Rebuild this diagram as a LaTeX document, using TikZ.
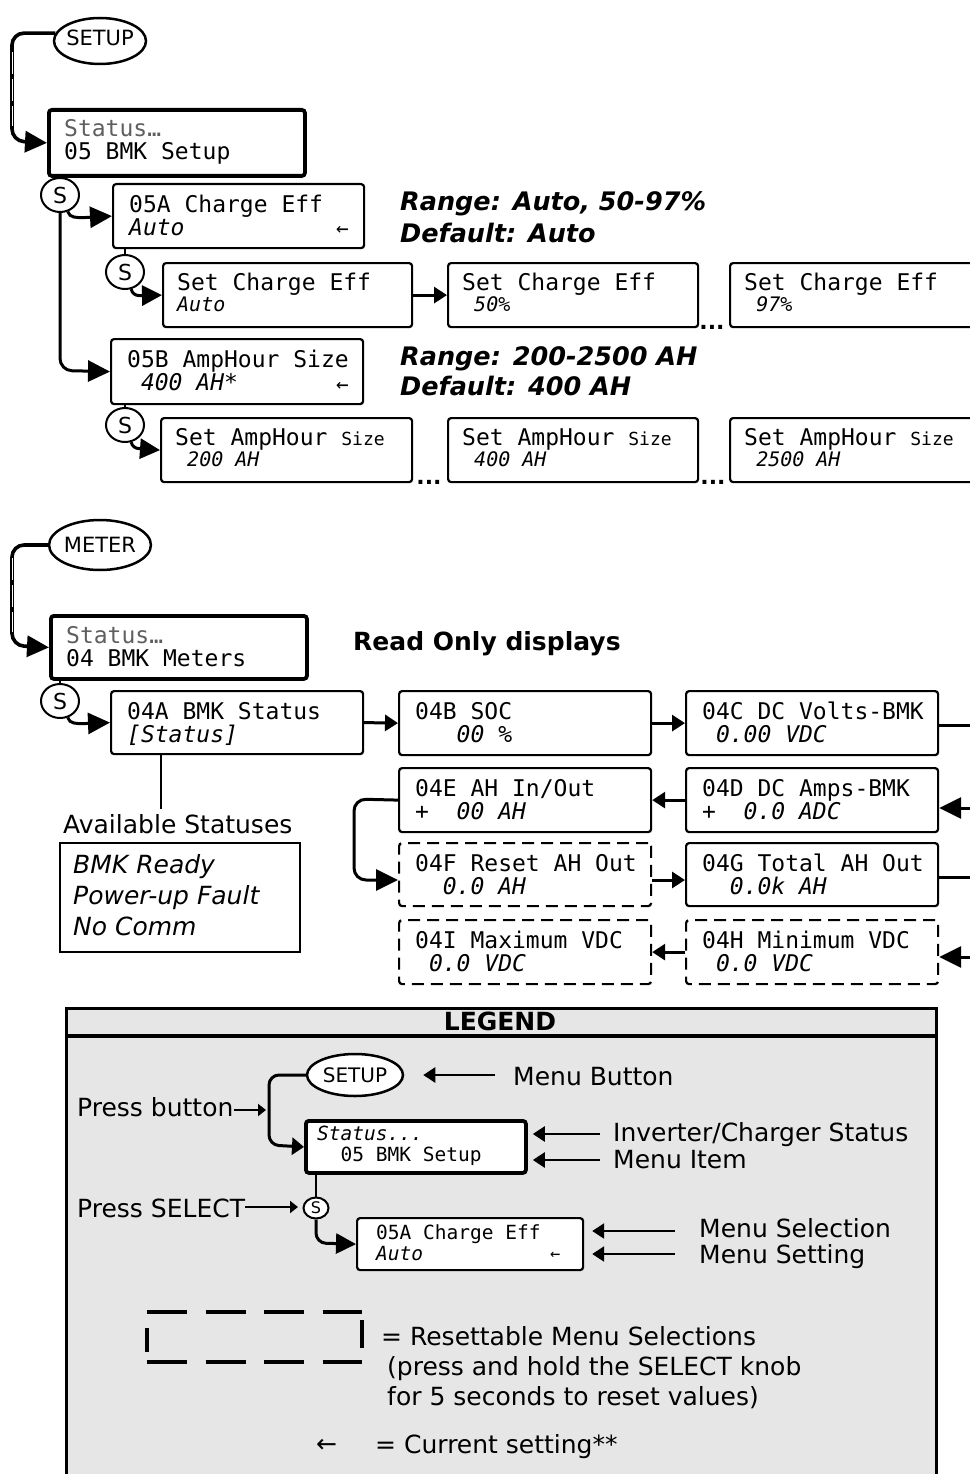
\documentclass[tikz,border=0pt]{standalone}
\usepackage{fontspec}
\setmainfont{DejaVu Sans}
\setmonofont{DejaVu Sans Mono}
\usetikzlibrary{arrows.meta,calc,shapes.geometric}
\definecolor{stgray}{RGB}{95,95,95}
\definecolor{lgray}{RGB}{230,230,230}
\newcommand\panel[9]{%
  \node[#2, minimum width=#5pt, minimum height=#6pt] (#1) at (#3,#4) {};
  \node[mono] (#1-a) at (#3+17,#4+29) {#7};
  \node[#8] (#1-b) at (#3+17,#4+52) {#9};}
\newcommand\setpanel[6]{%
  \node[menubox, minimum width=#4pt, minimum height=64pt] (#1) at (#2,#3) {};
  \node[mono] (#1-a) at (#2+15,#3+28) {#5};
  \node[monos] (#1-b) at (#2+15,#3+49) {#6};}
\begin{document}
\begin{tikzpicture}[x=1pt,y=-1pt,
  mono/.style={inner sep=0pt, anchor=base west, font=\fontsize{23}{23}\selectfont\ttfamily},
  monoi/.style={mono, font=\fontsize{23}{23}\selectfont\ttfamily\itshape},
  monos/.style={mono, font=\fontsize{20}{20}\selectfont\ttfamily\itshape},
  lmono/.style={mono, font=\fontsize{19.5}{19.5}\selectfont\ttfamily},
  lmonoi/.style={mono, font=\fontsize{19.5}{19.5}\selectfont\ttfamily\itshape},
  sansl/.style={inner sep=0pt, anchor=base west, font=\fontsize{25}{25}\selectfont},
  sansi/.style={sansl, font=\fontsize{25}{25}\selectfont\itshape},
  rangetxt/.style={sansl, font=\fontsize{25.5}{25.5}\selectfont\bfseries\itshape},
  curmark/.style={inner sep=0pt, anchor=base west, font=\fontsize{21}{21}\selectfont\ttfamily},
  dotsty/.style={inner sep=0pt, anchor=base, font=\fontsize{22}{22}\selectfont\bfseries},
  menubox/.style={draw, line width=2.2pt, rounded corners=3pt, fill=white, inner sep=0pt, anchor=north west},
  statbox/.style={menubox, line width=3.8pt},
  dashbox/.style={menubox, dash pattern=on 12pt off 7pt},
  sel/.style={ellipse, draw, line width=2pt, fill=white, minimum width=38pt, minimum height=34pt, inner sep=0pt, font=\fontsize{22}{22}\selectfont},
  btn/.style={ellipse, draw, line width=2.5pt, fill=white, inner sep=0pt},
  conn/.style={line width=3pt, rounded corners=12pt},
  feed/.style={line width=3.6pt, rounded corners=12pt},
  hook/.style={line width=3pt},
  bigarr/.style={-{Triangle[length=22pt,width=21pt]}},
  midarr/.style={-{Triangle[length=20pt,width=20pt]}},
  smallarr/.style={-{Triangle[length=13pt,width=16pt]}},
  larr/.style={line width=2.5pt, -{Triangle[length=12pt,width=15pt]}},
  parr/.style={line width=2.5pt, -{Triangle[length=8pt,width=12pt]}},
  thinlink/.style={line width=2pt},
  stripe/.style={white, line width=0.9pt, dash pattern=on 22pt off 5pt}
]
\useasboundingbox (0,0) rectangle (969,1474);

% ---------------- SETUP ----------------
\node[btn, minimum width=92pt, minimum height=46pt] (setup) at (100,41) {};
\node[inner sep=0pt, font=\fontsize{21}{21}\selectfont] (setupt) at (100,38) {SETUP};
\node[statbox, minimum width=256pt, minimum height=66pt] (stat1) at (47,108) {};
\node[mono, text=stgray] (stat1-a) at (64,137) {Status…};
\node[mono] (stat1-b) at (64,160) {05 BMK Setup};
\draw[feed,bigarr] (setup.170) -- (setup.170 -| 12,0) -- (12,141) -- (stat1.west);
\draw[stripe] (12,52) -- (12,126);

\node[sel] (s1) at (60,195) {S};
\draw[thinlink] (s1.north) -- (s1.north |- stat1.south);

\panel{a05}{menubox}{112}{183}{251}{64}{05A Charge Eff}{monoi}{Auto}
\node[curmark] (a05-cur) at (336,235) {←};
\draw[hook,bigarr] (s1.-65) to[out=-75,in=180] ($(s1.-65)+(16,6)$) -- (a05.west);

\node[sel] (s2) at (125,272) {S};
\draw[thinlink] (s2.north) -- (s2.north |- a05.south);

\setpanel{c1}{162}{262}{249}{Set Charge Eff}{Auto}
\setpanel{c2}{447}{262}{250}{Set Charge Eff}{\ 50\%}
\setpanel{c3}{729}{262}{260}{Set Charge Eff}{\ 97\%}
\draw[hook,midarr] (s2.-70) to[out=-80,in=180] ($(s2.-70)+(8,6.5)$) -- (c1.west);
\draw[line width=3pt,smallarr] (c1.east) -- (c2.west);
\node[dotsty] (dt1) at (712,329) {...};

\node[rangetxt] (r1) at (400,211) {Range: Auto, 50-97\%};
\node[rangetxt] (r2) at (400,242) {Default: Auto};

\panel{b05}{menubox}{110}{338}{252}{65}{05B AmpHour Size}{monoi}{\ 400 AH*}
\node[curmark] (b05-cur) at (336,391) {←};
\draw[conn,bigarr] (s1.south) -- (60,370.5) -- (b05.west);

\node[rangetxt] (r3) at (400,365) {Range: 200-2500 AH};
\node[rangetxt] (r4) at (400,395) {Default: 400 AH};

\node[sel] (s3) at (125,425) {S};
\draw[thinlink] (s3.north) -- (s3.north |- b05.south);

\setpanel{d1}{160}{417}{251}{Set AmpHour {\fontsize{18}{18}\selectfont Size}}{\ 200 AH}
\setpanel{d2}{447}{417}{250}{Set AmpHour {\fontsize{18}{18}\selectfont Size}}{\ 400 AH}
\setpanel{d3}{729}{417}{260}{Set AmpHour {\fontsize{18}{18}\selectfont Size}}{\ 2500 AH}
\draw[hook,midarr] (s3.-70) to[out=-80,in=180] ($(s3.-70)+(8,6.5)$) -- (d1.west);
\node[dotsty] (dt2) at (429,484) {...};
\node[dotsty] (dt3) at (713,484) {...};

% ---------------- METER ----------------
\node[btn, minimum width=86pt, minimum height=50pt, font=\fontsize{21}{21}\selectfont] (meter) at (100,545) {METER};
\node[statbox, minimum width=256pt, minimum height=63pt] (stat2) at (49,614) {};
\node[mono, text=stgray] (stat2-a) at (66,643) {Status…};
\node[mono] (stat2-b) at (66,666) {04 BMK Meters};
\draw[feed,bigarr] (meter.west) -- (12,545) -- (12,645.5) -- (stat2.west);
\draw[stripe] (12,558) -- (12,632);

\node[sansl, font=\fontsize{25}{25}\selectfont\bfseries] (ro) at (353,650) {Read Only displays};

\node[sel] (s4) at (60,701) {S};
\draw[thinlink] (s4.north) -- (s4.north |- stat2.south);

\panel{a04}{menubox}{110}{690}{252}{63}{04A BMK Status}{monoi}{[Status]}
\draw[hook,bigarr] (s4.-65) to[out=-75,in=180] ($(s4.-65)+(16,6)$) -- (a04.west);

\panel{b04}{menubox}{398}{690}{252}{64}{04B SOC}{monoi}{\ \ \ 00 \%}
\panel{c04}{menubox}{685}{690}{252}{64}{04C DC Volts-BMK}{monoi}{\ 0.00 VDC}
\panel{e04}{menubox}{398}{767}{252}{64}{04E AH In/Out}{monoi}{+\ \ 00 AH}
\panel{d04}{menubox}{685}{767}{252}{64}{04D DC Amps-BMK}{monoi}{+\ \ 0.0 ADC}
\panel{f04}{dashbox}{398}{842}{252}{63}{04F Reset AH Out}{monoi}{\ \ 0.0 AH}
\panel{g04}{menubox}{685}{842}{252}{63}{04G Total AH Out}{monoi}{\ \ 0.0k AH}
\panel{i04}{dashbox}{398}{919}{252}{64}{04I Maximum VDC}{monoi}{\ 0.0 VDC}
\panel{h04}{dashbox}{685}{919}{252}{64}{04H Minimum VDC}{monoi}{\ 0.0 VDC}

\draw[line width=3pt,smallarr] (a04.east) -- (b04.west);
\draw[line width=3pt,smallarr] (b04.east) -- (c04.west);
\coordinate (cR) at (975,725);
\draw[line width=3pt] (c04.east |- cR) -- (cR);
\coordinate (dR) at (975,808);
\draw[line width=3pt,bigarr] (dR) -- (dR -| d04.east);
\draw[line width=3pt,smallarr] (d04.west) -- (e04.east);
\draw[conn,bigarr] (e04.west) -- (354,799) -- (354,880) -- (f04.west |- 0,880);
\draw[line width=3pt,smallarr] (f04.east |- 0,880) -- (g04.west |- 0,880);
\coordinate (gR) at (975,877);
\draw[line width=3pt] (g04.east |- gR) -- (gR);
\coordinate (hR) at (975,957);
\draw[line width=3pt,bigarr] (hR) -- (hR -| h04.east);
\draw[line width=3pt,smallarr] (h04.west) -- (i04.east);

% Available statuses
\draw[line width=1.5pt] ($(a04.south west)+(51,0)$) -- ++(0,54);
\node[sansl] (avl) at (63,833) {Available Statuses};
\node[draw, line width=1.5pt, minimum width=240pt, minimum height=109pt, anchor=north west, inner sep=0pt] (stl) at (59,842) {};
\node[sansi] (stl-a) at (73,873) {BMK Ready};
\node[sansi] (stl-b) at (73,904) {Power-up Fault};
\node[sansi] (stl-c) at (73,935) {No Comm};

% ---------------- LEGEND ----------------
\node[draw, line width=3pt, fill=lgray, minimum width=870pt, minimum height=490pt, anchor=north west, inner sep=0pt] (leg) at (65,1007) {};
\draw[line width=4pt] (leg.north west |- 0,1036) -- (leg.north east |- 0,1036);
\node[inner sep=0pt, anchor=base, font=\fontsize{25}{25}\selectfont\bfseries] (legt) at (500,1030) {LEGEND};

\node[btn, minimum width=96pt, minimum height=42pt, font=\fontsize{20}{20}\selectfont] (lsetup) at (355,1075) {SETUP};
\node[statbox, minimum width=220pt, minimum height=52pt] (lstat) at (304,1119) {};
\node[lmonoi] (lstat-a) at (317,1140) {Status...};
\node[lmono] (lstat-b) at (317,1161) {\ \ 05 BMK Setup};
\draw[line width=3pt, rounded corners=10pt, -{Triangle[length=12pt,width=17pt]}] (lsetup.west) -- (269,1075) -- (269,1145) -- (lstat.west);

\node[sel, minimum width=25pt, minimum height=21pt, font=\fontsize{16}{16}\selectfont] (ls) at (316,1208) {S};
\draw[line width=2.5pt] (ls.north) -- (ls.north |- lstat.south);

\node[menubox, minimum width=226pt, minimum height=52pt] (l05) at (356,1217) {};
\node[lmono] (l05-a) at (376,1239) {05A Charge Eff};
\node[lmonoi] (l05-b) at (376,1260) {Auto};
\node[curmark, font=\fontsize{17}{17}\selectfont\ttfamily] (l05-cur) at (550,1259) {←};
\draw[line width=3pt, rounded corners=10pt, midarr] (ls.south) -- (316,1243) -- (l05.west);

\node[sansl] (pb) at (77,1116) {Press button};
\draw[parr] (pb.east |- 0,1110) -- (266,1110);
\node[sansl] (psel) at (77,1217) {Press SELECT};
\draw[parr] (psel.east |- 0,1207) -- (298,1207);

\node[sansl] (mb) at (513,1085) {Menu Button};
\draw[larr] ($(mb.west |- lsetup.east)+(-18,0)$) -- ($(lsetup.east)+(19,0)$);
\node[sansl] (ics) at (613,1141) {Inverter/Charger Status};
\draw[larr] ($(ics.west |- 0,1134)+(-13,0)$) -- ($(lstat.east |- 0,1134)+(5,0)$);
\node[sansl] (mi) at (613,1168) {Menu Item};
\draw[larr] ($(mi.west |- 0,1160)+(-13,0)$) -- ($(lstat.east |- 0,1160)+(5,0)$);
\node[sansl] (msel) at (699,1237) {Menu Selection};
\draw[larr] ($(msel.west |- 0,1231)+(-24,0)$) -- ($(l05.east |- 0,1231)+(8,0)$);
\node[sansl] (mset) at (699,1263) {Menu Setting};
\draw[larr] ($(mset.west |- 0,1254)+(-24,0)$) -- ($(l05.east |- 0,1254)+(8,0)$);

% resettable sample
\draw[line width=3.5pt, dash pattern=on 40pt off 18.5pt] (147,1312) -- (362,1312);
\draw[line width=3.5pt, dash pattern=on 40pt off 18.5pt] (147,1362) -- (362,1362);
\draw[line width=3.5pt] (147,1328) -- (147,1352);
\draw[line width=3.5pt] (362,1320) -- (362,1348);
\node[sansl] (rs1) at (381,1345) {= Resettable Menu Selections};
\node[sansl] (rs2) at (387,1375) {(press and hold the SELECT knob};
\node[sansl] (rs3) at (387,1405) {for 5 seconds to reset values)};

\node[inner sep=0pt, anchor=base west, font=\fontsize{25}{25}\selectfont] (cur) at (316,1452) {←};
\node[sansl] (curt) at (375,1453) {= Current setting**};
\end{tikzpicture}
\end{document}
